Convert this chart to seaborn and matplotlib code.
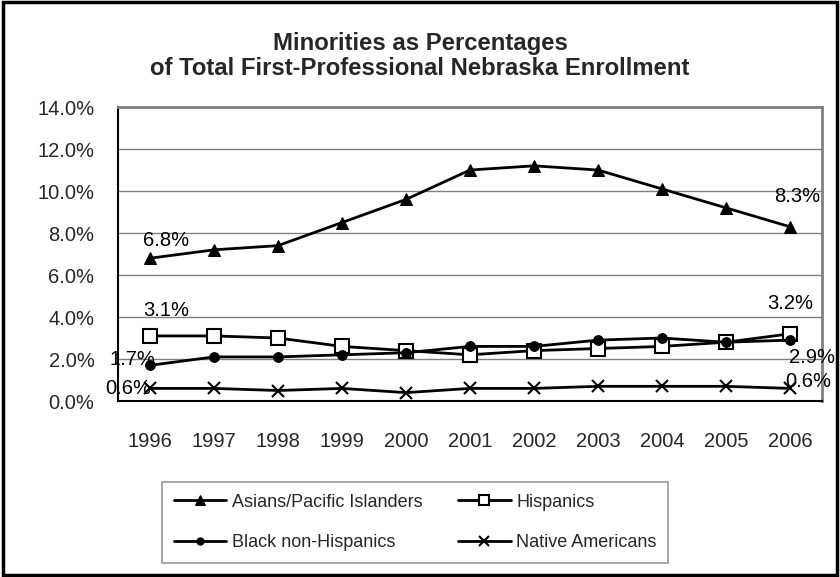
import matplotlib
matplotlib.use("Agg")
import matplotlib.pyplot as plt
from matplotlib.patches import Rectangle
from matplotlib.ticker import FuncFormatter, FixedLocator
import seaborn as sns
import pandas as pd

years = [1996, 1997, 1998, 1999, 2000, 2001, 2002, 2003, 2004, 2005, 2006]
asians = [6.8, 7.2, 7.4, 8.5, 9.6, 11.0, 11.2, 11.0, 10.1, 9.2, 8.3]
hispanics = [3.1, 3.1, 3.0, 2.6, 2.4, 2.2, 2.4, 2.5, 2.6, 2.8, 3.2]
blacks = [1.7, 2.1, 2.1, 2.2, 2.3, 2.6, 2.6, 2.9, 3.0, 2.8, 2.9]
natives = [0.6, 0.6, 0.5, 0.6, 0.4, 0.6, 0.6, 0.7, 0.7, 0.7, 0.6]

series_names = ["Asians/Pacific Islanders", "Hispanics",
                "Black non-Hispanics", "Native Americans"]
series_values = [asians, hispanics, blacks, natives]

sns.set_theme(style="white")
plt.rcParams["font.family"] = ["Liberation Sans", "DejaVu Sans"]

fig = plt.figure(figsize=(8.4, 5.77), dpi=100)
ax = fig.add_axes([0.1405, 0.305, 0.838, 0.5095])

# estilo de cada serie
styles = {
    "Asians/Pacific Islanders": dict(marker="^", markersize=9, markerfacecolor="black"),
    "Hispanics": dict(marker="s", markersize=10, markerfacecolor="white", markeredgewidth=1.5),
    "Black non-Hispanics": dict(marker="o", markersize=7, markerfacecolor="black"),
    "Native Americans": dict(marker="x", markersize=9, markeredgewidth=1.5),
}

pos = list(range(len(years)))
for name, vals in zip(series_names, series_values):
    df = pd.DataFrame({"x": pos, "y": vals})
    sns.lineplot(data=df, x="x", y="y", ax=ax, color="black", linewidth=2,
                 markeredgecolor="black", label=name, **styles[name])

ax.set_xlim(-0.5, len(years) - 0.5)
ax.set_ylim(0, 14)
ax.set_yticks([0, 2, 4, 6, 8, 10, 12, 14])
ax.yaxis.set_major_formatter(FuncFormatter(lambda v, p: f"{v:.1f}%"))
ax.set_xticks(pos)
ax.set_xticklabels([str(y) for y in years])
ax.xaxis.set_minor_locator(FixedLocator([p - 0.5 for p in range(len(years) + 1)]))
ax.tick_params(axis="x", which="major", length=0, pad=22, labelsize=14.5)
ax.tick_params(axis="x", which="minor", length=5, width=1, color="black", direction="out")
ax.tick_params(axis="y", length=5, width=1, color="black", direction="out", pad=12, labelsize=14.5)
ax.set_xlabel("")
ax.set_ylabel("")
ax.grid(axis="y", color="#808080", linewidth=1)
ax.set_axisbelow(True)
for s in ["top", "right"]:
    ax.spines[s].set_color("#808080")
    ax.spines[s].set_linewidth(2)
for s in ["left", "bottom"]:
    ax.spines[s].set_color("black")
    ax.spines[s].set_linewidth(1.5)

# etiquetas de datos (primer y último año)
label_offsets = {
    "Asians/Pacific Islanders": [(16, 18), (7, 30)],
    "Hispanics": [(16, 25), (0, 30)],
    "Black non-Hispanics": [(-18, 6), (22, -17)],
    "Native Americans": [(-22, 0), (18, 7)],
}
for name, vals in zip(series_names, series_values):
    for idx, off in zip([0, len(years) - 1], label_offsets[name]):
        ax.annotate(f"{vals[idx]:.1f}%", (pos[idx], vals[idx]), xytext=off,
                    textcoords="offset pixels", ha="center", va="center",
                    fontsize=14.5, color="black")

# leyenda en filas como en Excel (matplotlib llena por columnas)
ax.legend_.remove()
handles, labels = ax.get_legend_handles_labels()
order = [0, 2, 1, 3]
leg = fig.legend([handles[i] for i in order], [labels[i] for i in order],
                 loc="upper left", bbox_to_anchor=(162 / 840, 1 - 482 / 577),
                 ncol=2, fontsize=13, frameon=True, fancybox=False,
                 handlelength=2.9, columnspacing=2.0, labelspacing=1.3,
                 borderpad=0.65, handletextpad=0.3, markerscale=0.75,
                 borderaxespad=0)
leg.get_frame().set_edgecolor("#808080")
leg.get_frame().set_linewidth(1.2)

fig.text(0.5, 1 - 50 / 577, "Minorities as Percentages", ha="center", va="baseline",
         fontsize=17.2, fontweight="bold")
fig.text(0.5, 1 - 75 / 577, "of Total First-Professional Nebraska Enrollment",
         ha="center", va="baseline", fontsize=17.2, fontweight="bold")

fig.patches.append(Rectangle((0.003, 0.004), 0.994, 0.992, transform=fig.transFigure,
                             fill=False, edgecolor="black", linewidth=2.5))

fig.savefig("out.png", dpi=100)
